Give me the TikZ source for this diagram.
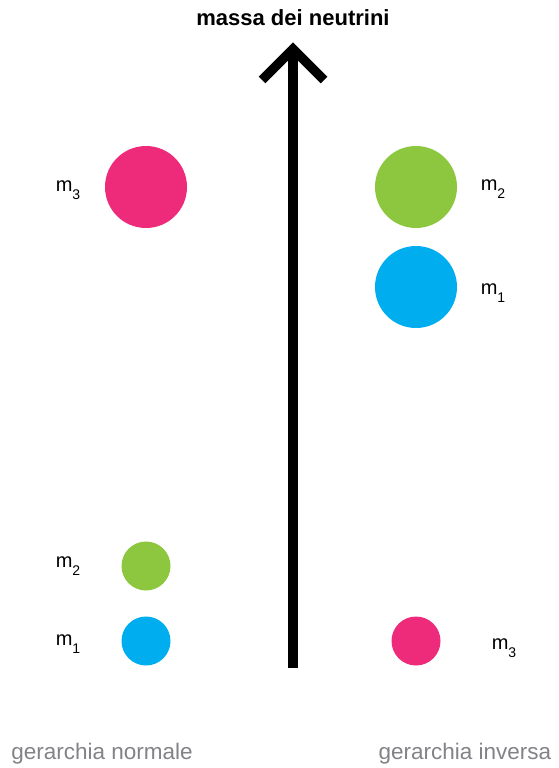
\documentclass[tikz,border=0pt]{standalone}
\usepackage{fontspec}
\setmainfont{Liberation Sans}
\usetikzlibrary{calc}
\definecolor{rosa}{RGB}{238,42,123}
\definecolor{verde}{RGB}{141,198,63}
\definecolor{azzurro}{RGB}{0,174,239}
\definecolor{grigio}{RGB}{130,130,135}
\newcommand{\massa}[1]{m\raisebox{-0.4em}{\fontsize{14}{14}\selectfont #1}}

\begin{document}
\begin{tikzpicture}[x=1pt,y=-1pt,
    grande/.style={circle,inner sep=0pt,minimum size=82pt},
    piccolo/.style={circle,inner sep=0pt,minimum size=49pt},
    etichetta/.style={font=\fontsize{20}{24}\selectfont},
    gerarchia/.style={font=\fontsize{22.5}{26}\selectfont,text=grigio}]
  \useasboundingbox (0,0) rectangle (558,768);
  % asse delle masse
  \coordinate (base) at (293,668);
  \coordinate (punta) at (293,49);
  \draw[line width=9.5pt] (base) -- (punta);
  \draw[line width=9.5pt,miter limit=4] ($(punta)+(-31,31)$) -- (punta) -- ($(punta)+(31,31)$);
  \node[font=\fontsize{22}{26}\selectfont\bfseries] (titolo) at (293,18) {massa dei neutrini};
  % gerarchia normale
  \node[grande,fill=rosa] (n3) at (146,187) {};
  \node[piccolo,fill=verde] (n2) at (146,566) {};
  \node[piccolo,fill=azzurro] (n1) at (146,641) {};
  \node[etichetta] at (68,190) {\massa{3}};
  \node[etichetta] at (68,566) {\massa{2}};
  \node[etichetta] at (68,644) {\massa{1}};
  % gerarchia inversa
  \node[grande,fill=verde] (i2) at (416,187) {};
  \node[grande,fill=azzurro] (i1) at (416,287) {};
  \node[piccolo,fill=rosa] (i3) at (416,641) {};
  \node[etichetta] at (493,189) {\massa{2}};
  \node[etichetta] at (493,293) {\massa{1}};
  \node[etichetta] at (504,648) {\massa{3}};
  \node[gerarchia] at (102,754) {gerarchia normale};
  \node[gerarchia] at (465,754) {gerarchia inversa};
\end{tikzpicture}
\end{document}
